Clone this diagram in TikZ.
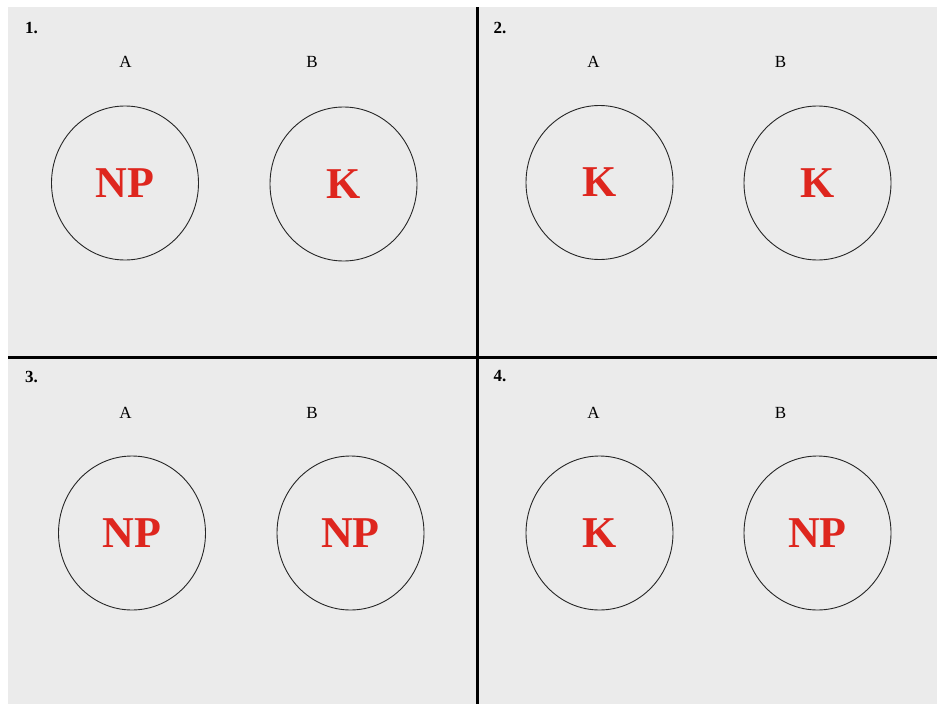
\documentclass[tikz,border=0pt]{standalone}
\usepackage{fontspec}
\setmainfont{Liberation Serif}
\usetikzlibrary{shapes.geometric}
\definecolor{panelgray}{RGB}{235,235,235}
\definecolor{npred}{RGB}{222,38,30}
\tikzset{
  ring/.style={ellipse, draw=black!85, line width=0.9pt, minimum width=147pt, minimum height=154pt, inner sep=0pt,
    text=npred, font=\fontsize{44}{48}\selectfont\bfseries},
  letterlbl/.style={inner sep=0pt, font=\fontsize{17}{20}\selectfont},
  numlbl/.style={inner sep=0pt, font=\fontsize{17}{20}\selectfont\bfseries},
  divider/.style={line width=3pt, black}
}
\begin{document}
\begin{tikzpicture}[x=1pt,y=-1pt]
\useasboundingbox (0,0) rectangle (937,704);
\fill[white] (0,0) rectangle (937,704);
\fill[panelgray] (8,7) rectangle (937,704);
\coordinate (vtop) at (477,7);
\coordinate (vbot) at (477,704);
\coordinate (hleft) at (8,357.5);
\coordinate (hright) at (937,357.5);
\draw[divider] (vtop) -- (vbot);
\draw[divider] (hleft) -- (hright);
% panel 1
\node[numlbl] (n1) at (31.5,28) {1.};
\node[letterlbl] (a1) at (125.5,62) {A};
\node[letterlbl] (b1) at (312,62) {B};
\node[ring] (c1a) at (125,183) {NP};
\node[ring] (c1b) at (343.5,184) {K};
% panel 2
\node[numlbl] (n2) at (500,28) {2.};
\node[letterlbl] (a2) at (593.5,62) {A};
\node[letterlbl] (b2) at (780.5,62) {B};
\node[ring] (c2a) at (599.5,182.5) {K};
\node[ring] (c2b) at (817.5,183) {K};
% panel 3
\node[numlbl] (n3) at (31.5,376.5) {3.};
\node[letterlbl] (a3) at (125.5,413) {A};
\node[letterlbl] (b3) at (312,413) {B};
\node[ring] (c3a) at (132,533) {NP};
\node[ring] (c3b) at (350.5,533) {NP};
% panel 4
\node[numlbl] (n4) at (500,376.5) {4.};
\node[letterlbl] (a4) at (593.5,413) {A};
\node[letterlbl] (b4) at (780.5,413) {B};
\node[ring] (c4a) at (599.5,533) {K};
\node[ring] (c4b) at (817.5,533) {NP};
\end{tikzpicture}
\end{document}
